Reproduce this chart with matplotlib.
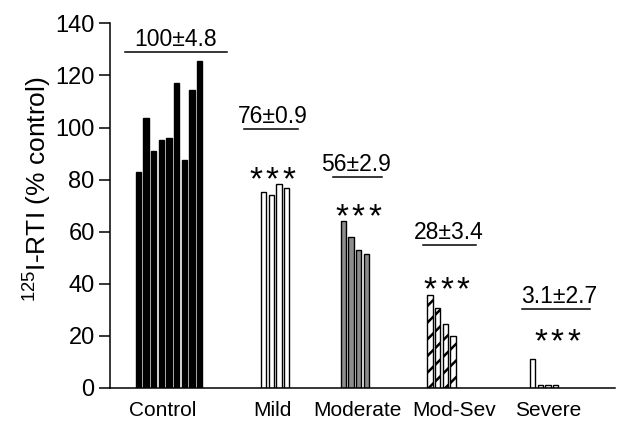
import matplotlib
matplotlib.use("Agg")
import matplotlib.pyplot as plt

plt.rcParams['font.family'] = ['Liberation Sans', 'DejaVu Sans']
plt.rcParams['mathtext.fontset'] = 'custom'
plt.rcParams['mathtext.rm'] = 'Liberation Sans'
plt.rcParams['mathtext.default'] = 'regular'
plt.rcParams['hatch.linewidth'] = 1.8

# data (% of control)
groups = ['Control', 'Mild', 'Moderate', 'Mod-Sev', 'Severe']
control = [82.9, 103.8, 91.0, 95.1, 95.9, 117.0, 87.5, 114.4, 125.4]
mild = [75.1, 74.2, 78.2, 76.7]
moderate = [64.1, 58.0, 53.1, 51.3]
modsev = [35.7, 30.7, 24.7, 20.1]
severe = [11.0, 1.2, 1.2, 1.2]
summary = ['100\u00b14.8', '76\u00b10.9', '56\u00b12.9', '28\u00b13.4', '3.1\u00b12.7']
signif = [False, True, True, True, True]

# layout (x in bar-pitch units)
group_start = [3.71, 20.07, 30.48, 41.83, 55.23]
label_x = [6.93, 21.24, 32.29, 44.97, 57.25]
line_x = [(1.96, 15.29), (17.52, 24.58), (29.15, 35.56), (40.92, 47.84), (53.86, 62.75)]
line_y = [129, 99.4, 80.9, 54.9, 30.2]
text_x = [8.63, 21.3, 32.2, 44.3, 58.7]
star_x = [0, 21.18, 32.42, 44.0, 58.45]
star_y = [0, 83.4, 69.1, 41.2, 21.2]
star_gap = 2.16
styles = [
    dict(color='black', edgecolor='black'),
    dict(color='white', edgecolor='black'),
    dict(color='#8c8c8c', edgecolor='black'),
    dict(color='white', edgecolor='black', hatch='//'),
    dict(color='white', edgecolor='black'),
]

fig = plt.figure(figsize=(6.31, 4.22), dpi=100)
ax = fig.add_axes([110 / 631, 34 / 422, 505 / 631, 364.7 / 422])

all_groups = [control, mild, moderate, modsev, severe]
for i, vals in enumerate(all_groups):
    xs = [group_start[i] + k for k in range(len(vals))]
    ax.bar(xs, vals, width=0.69, linewidth=1.0, **styles[i])
    ax.plot(line_x[i], [line_y[i], line_y[i]], color='black', lw=1.1, clip_on=False)
    ax.text(text_x[i], line_y[i] + 0.5, summary[i], ha='center', va='bottom', fontsize=16.5)
    if signif[i]:
        for k in (-1, 0, 1):
            ax.text(star_x[i] + k * star_gap, star_y[i] - 7.0, '*',
                    ha='center', va='baseline', fontsize=24)

ax.set_xlim(0, 66.0)
ax.set_ylim(0, 140)
ax.set_yticks(range(0, 141, 20))
ax.set_xticks(label_x)
ax.set_xticklabels(groups, fontsize=15)
ax.tick_params(axis='x', length=0, pad=9)
ax.tick_params(axis='y', length=8, width=1.1, labelsize=17, pad=3)
for s in ['top', 'right']:
    ax.spines[s].set_visible(False)
for s in ['left', 'bottom']:
    ax.spines[s].set_linewidth(1.1)
ax.set_ylabel('$^{125}$I-RTI (% control)', fontsize=19)
ax.yaxis.set_label_coords(-0.11, 0.546)

fig.savefig('out.png', dpi=100)
